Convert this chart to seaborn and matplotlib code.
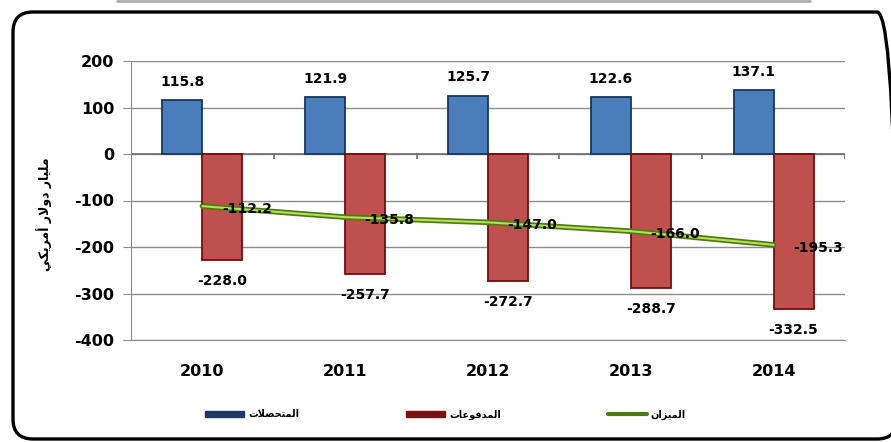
import matplotlib
matplotlib.use("Agg")
import matplotlib.pyplot as plt
import matplotlib.transforms as mtransforms
from matplotlib.patches import FancyBboxPatch, Patch
from matplotlib.lines import Line2D
import numpy as np
import pandas as pd
import seaborn as sns

years = ["2010", "2011", "2012", "2013", "2014"]
receipts = [115.8, 121.9, 125.7, 122.6, 137.1]
payments = [-228.0, -257.7, -272.7, -288.7, -332.5]
balance = [-112.2, -135.8, -147.0, -166.0, -195.3]

receipts_name = "المتحصلات"
payments_name = "المدفوعات"
balance_name = "الميزان"
y_label = "مليار دولار أمريكي"


# matplotlib has no arabic shaping -> pick presentation forms by hand and reverse
AR_FORMS = {
    "ا": ("\uFE8D", "\uFE8E", None, None),
    "أ": ("\uFE83", "\uFE84", None, None),
    "د": ("\uFEA9", "\uFEAA", None, None),
    "ر": ("\uFEAD", "\uFEAE", None, None),
    "ز": ("\uFEAF", "\uFEB0", None, None),
    "و": ("\uFEED", "\uFEEE", None, None),
    "ل": ("\uFEDD", "\uFEDE", "\uFEDF", "\uFEE0"),
    "م": ("\uFEE1", "\uFEE2", "\uFEE3", "\uFEE4"),
    "ت": ("\uFE95", "\uFE96", "\uFE97", "\uFE98"),
    "ح": ("\uFEA1", "\uFEA2", "\uFEA3", "\uFEA4"),
    "ص": ("\uFEB9", "\uFEBA", "\uFEBB", "\uFEBC"),
    "ف": ("\uFED1", "\uFED2", "\uFED3", "\uFED4"),
    "ع": ("\uFEC9", "\uFECA", "\uFECB", "\uFECC"),
    "ي": ("\uFEF1", "\uFEF2", "\uFEF3", "\uFEF4"),
    "ن": ("\uFEE5", "\uFEE6", "\uFEE7", "\uFEE8"),
    "ك": ("\uFED9", "\uFEDA", "\uFEDB", "\uFEDC"),
}
LAM_ALEF = {"ا": ("\uFEFB", "\uFEFC"), "أ": ("\uFEF7", "\uFEF8")}


def shape(text):
    out = []
    i = 0
    while i < len(text):
        c = text[i]
        if c not in AR_FORMS:
            out.append(c)
            i += 1
            continue
        prev = text[i - 1] if i > 0 else None
        joins_prev = prev in AR_FORMS and AR_FORMS[prev][2] is not None
        if c == "ل" and i + 1 < len(text) and text[i + 1] in LAM_ALEF:
            out.append(LAM_ALEF[text[i + 1]][1 if joins_prev else 0])
            i += 2
            continue
        nxt = text[i + 1] if i + 1 < len(text) else None
        joins_next = nxt in AR_FORMS and AR_FORMS[c][2] is not None
        iso, fin, ini, med = AR_FORMS[c]
        if joins_prev and joins_next:
            out.append(med)
        elif joins_prev:
            out.append(fin)
        elif joins_next:
            out.append(ini)
        else:
            out.append(iso)
        i += 1
    return "".join(reversed(out))


sns.set_style("white")
plt.rcParams["font.family"] = ["DejaVu Sans"]
plt.rcParams["font.weight"] = "bold"
plt.rcParams["axes.unicode_minus"] = False
plt.rcParams["text.color"] = "black"
plt.rcParams["axes.labelcolor"] = "black"
plt.rcParams["xtick.labelcolor"] = "black"
plt.rcParams["ytick.labelcolor"] = "black"

df = pd.DataFrame({
    "year": years * 2,
    "series": [receipts_name] * len(years) + [payments_name] * len(years),
    "value": receipts + payments,
})

fig = plt.figure(figsize=(8.91, 4.42), dpi=100)
ax = fig.add_axes([131 / 891, 102 / 442, 714 / 891, 279 / 442])

sns.barplot(data=df, x="year", y="value", hue="series", order=years,
            hue_order=[receipts_name, payments_name],
            palette=["#4a7ebb", "#c0504d"], width=0.56, saturation=1,
            linewidth=1.3, ax=ax, zorder=3, legend=False)
edge_cols = ["#17375e", "#6e0f0f"]
for cont, ec in zip(ax.containers, edge_cols):
    for bar in cont:
        bar.set_edgecolor(ec)

ax.bar_label(ax.containers[0], fmt="%.1f", padding=8, fontsize=10, fontweight="bold",
             color="black")
ax.bar_label(ax.containers[1], fmt="%.1f", padding=10, fontsize=10, fontweight="bold",
             color="black")

pos = np.arange(len(years))
sns.lineplot(x=pos, y=balance, color="#4f7a12", linewidth=4, ax=ax, zorder=4, legend=False)
sns.lineplot(x=pos, y=balance, color="#b5e05a", linewidth=1.5, ax=ax, zorder=5, legend=False)
for x, v in zip(pos, balance):
    ax.annotate(f"{v:.1f}", (x, v), xytext=(14, -2), textcoords="offset points",
                ha="left", va="center", fontsize=10, fontweight="bold", color="black",
                zorder=6)
if ax.get_legend() is not None:
    ax.get_legend().remove()

ax.set_xlim(-0.5, len(years) - 0.5)
ax.set_ylim(-400, 200)
ax.set_yticks([200, 100, 0, -100, -200, -300, -400])
ax.yaxis.grid(True, color="#8c8c8c", linewidth=1)
ax.set_axisbelow(True)
ax.axhline(0, color="#6e6e6e", linewidth=1.2, zorder=2)
ax.vlines(np.arange(len(years)) + 0.5, -11, 0, color="#6e6e6e", linewidth=1.2, zorder=2)
for s in ["top", "right"]:
    ax.spines[s].set_visible(False)
ax.spines["left"].set_color("#8c8c8c")
ax.spines["bottom"].set_color("#8c8c8c")
ax.tick_params(axis="y", which="both", left=True, length=6, color="#8c8c8c",
               labelcolor="black", labelsize=11.5, pad=6)
ax.tick_params(axis="x", bottom=False, labelcolor="black", labelsize=11.5, pad=14)
for lab in ax.get_xticklabels() + ax.get_yticklabels():
    lab.set_fontweight("bold")
ax.set_xlabel("")
ax.set_ylabel(shape(y_label), fontsize=9, fontweight="bold", color="black")
ax.yaxis.set_label_coords(-0.11, 0.45)

handles = [
    Patch(facecolor="#1f3864", edgecolor="#1f3864"),
    Patch(facecolor="#7b1113", edgecolor="#7b1113"),
    Line2D([0], [0], color="#4f7a12", linewidth=3),
]
fig.legend(handles, [shape(receipts_name), shape(payments_name), shape(balance_name)],
           loc="center", bbox_to_anchor=(0.5, 0.062), ncol=3, frameon=False,
           prop={"size": 7, "weight": "bold"}, handlelength=4, handleheight=0.5,
           handletextpad=0.4, columnspacing=11)

# rounded frame and the grey line above it, in pixel space
frame = FancyBboxPatch((13, 3), 884, 427, boxstyle="round,pad=0,rounding_size=20",
                       transform=mtransforms.IdentityTransform(), fill=False,
                       edgecolor="black", linewidth=2.4)
fig.patches.append(frame)
fig.add_artist(Line2D([117, 810], [441, 441], transform=mtransforms.IdentityTransform(),
                      color="#b0b0b0", linewidth=2))

fig.savefig("out.png", dpi=100)
